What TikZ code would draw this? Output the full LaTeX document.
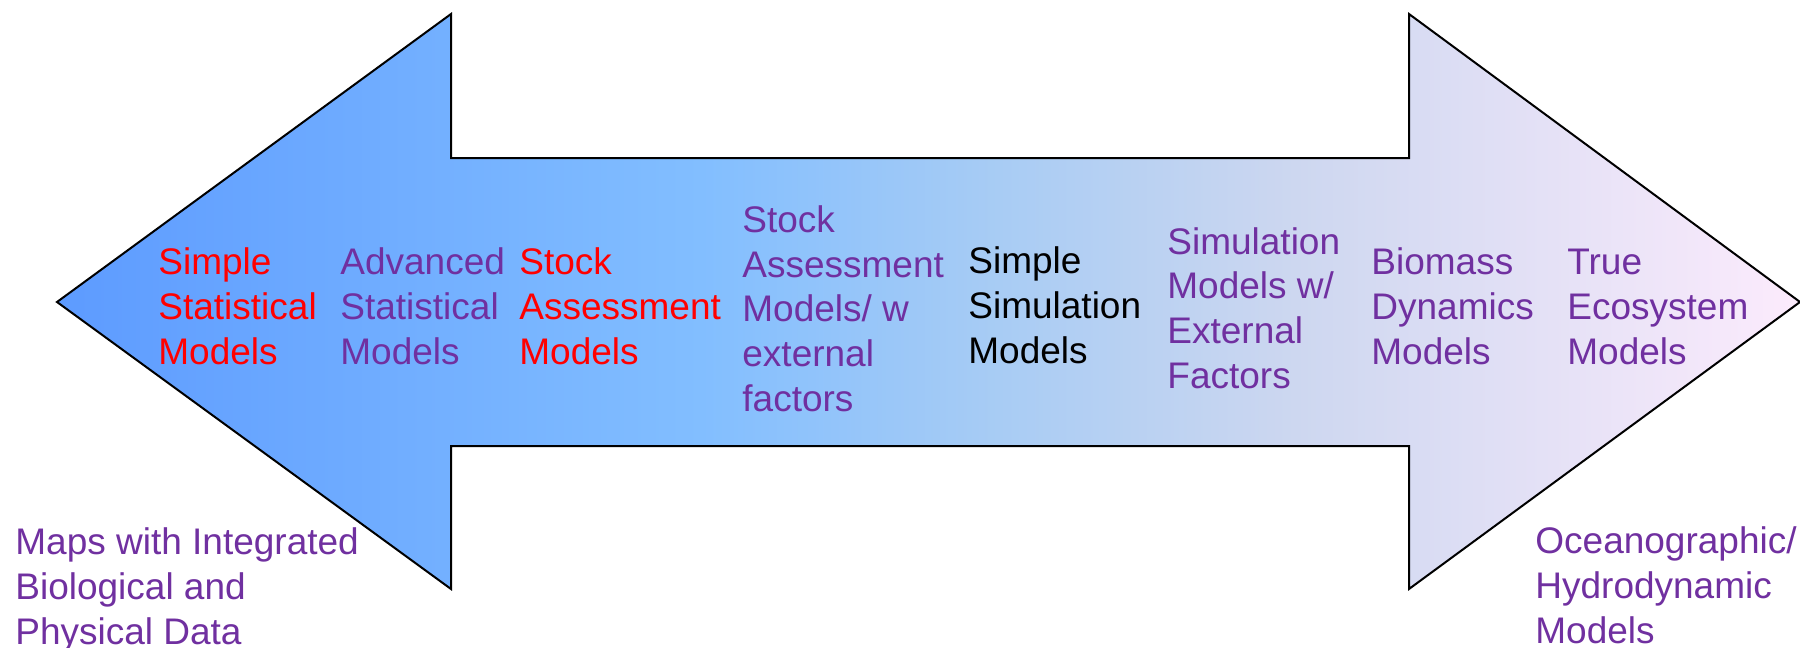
\documentclass[tikz,border=0pt]{standalone}
\usepackage{fontspec}
\setmainfont{Liberation Sans}
\definecolor{ppurple}{RGB}{112,48,160}
\definecolor{pred}{RGB}{255,0,0}
\definecolor{gA}{RGB}{93,155,255}
\definecolor{gB}{RGB}{130,190,255}
\definecolor{gC}{RGB}{168,204,244}
\definecolor{gD}{RGB}{205,215,240}
\definecolor{gE}{RGB}{252,235,252}
\pgfdeclarehorizontalshading{arrowshade}{100bp}{color(0bp)=(gA); color(25bp)=(gA); color(43.5bp)=(gB); color(52bp)=(gC); color(60.5bp)=(gD); color(75bp)=(gE); color(100bp)=(gE)}
\tikzset{
  lbl/.style={anchor=base west, inner sep=0pt, align=left, font=\fontsize{18.5}{22.3}\selectfont},
  arrowbody/.style={draw=black, line width=1pt, shading=arrowshade, line join=miter}
}
\begin{document}
\begin{tikzpicture}[x=0.5pt,y=-0.5pt]
\useasboundingbox (0,0) rectangle (1800,648);
\path[arrowbody] (57,302) -- (451,14) -- (451,158) -- (1409,158) -- (1409,14) -- (1800,302) -- (1409,589) -- (1409,446) -- (451,446) -- (451,589) -- cycle;
% anchors are at the baseline of the last line
\node[lbl, text=pred] (t1) at (158,364) {Simple\\Statistical\\Models};
\node[lbl, text=ppurple] (t2) at (340,364) {Advanced\\Statistical\\Models};
\node[lbl, text=pred] (t3) at (519,364) {Stock\\Assessment\\Models};
\node[lbl, text=ppurple] (t4) at (742,411) {Stock\\Assessment\\Models/ w\\external\\factors};
\node[lbl, text=black] (t5) at (968,363) {Simple\\Simulation\\Models};
\node[lbl, text=ppurple] (t6) at (1167,388) {Simulation\\Models w/\\External\\Factors};
\node[lbl, text=ppurple] (t7) at (1371,364) {Biomass\\Dynamics\\Models};
\node[lbl, text=ppurple] (t8) at (1567,364) {True\\Ecosystem\\Models};
\node[lbl, text=ppurple] (t9) at (15,644) {Maps with Integrated\\Biological and\\Physical Data};
\node[lbl, text=ppurple] (t10) at (1535,643) {Oceanographic/\\Hydrodynamic\\Models};
\end{tikzpicture}
\end{document}
